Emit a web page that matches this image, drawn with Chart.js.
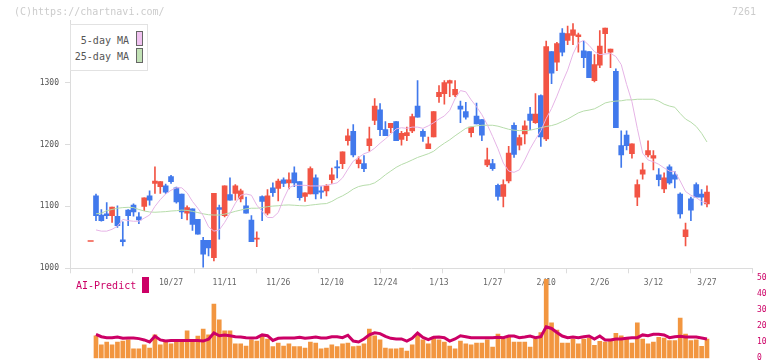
<!DOCTYPE html>
<html>
<head>
<meta charset="utf-8">
<script src="https://cdn.jsdelivr.net/npm/chart.js@4"></script>
<style>
body{margin:0;background:#fff;}
#wrap{position:relative;width:772px;height:361px;overflow:hidden;font-family:"DejaVu Sans Mono",monospace;}
canvas{position:absolute;left:0;top:0;}
.txt{position:absolute;white-space:nowrap;}
#legend{position:absolute;left:70px;top:24px;width:76px;height:45px;border:1px solid #e2e2e2;background:#fff;}
#legend span{position:absolute;right:18px;font-size:10px;line-height:12px;color:#555;}
#legend i{position:absolute;left:65px;width:7px;height:15px;box-sizing:border-box;border:1px solid #666;}
</style>
</head>
<body>
<div id="wrap">
  <canvas id="main" width="772" height="361"></canvas>
  <canvas id="vol" width="772" height="361"></canvas>
  <div class="txt" style="left:14px;top:6px;font-size:10px;color:#ccc">(C)https://chartnavi.com/</div>
  <div class="txt" style="right:16px;top:6px;font-size:10px;color:#ccc">7261</div>
  <div id="legend">
    <span style="top:10px">5-day MA</span><i style="top:6px;background:#f0c2f0"></i>
    <span style="top:26px">25-day MA</span><i style="top:23px;background:#c2e2b6"></i>
  </div>
  <div class="txt" style="left:76px;top:280px;font-size:10px;color:#cc0066">AI-Predict</div>
  <div style="position:absolute;left:142px;top:277px;width:7px;height:16px;background:#cc0066"></div>
</div>
<script>
// trading days (Oct 2025 - Mar 2026)
const dates=["10/6","10/7","10/8","10/9","10/10","10/14","10/15","10/16","10/17","10/20","10/21","10/22","10/23","10/24","10/27","10/28","10/29","10/30","10/31",
"11/4","11/5","11/6","11/7","11/10","11/11","11/12","11/13","11/14","11/17","11/18","11/19","11/20","11/21","11/25","11/26","11/27","11/28",
"12/1","12/2","12/3","12/4","12/5","12/8","12/9","12/10","12/11","12/12","12/15","12/16","12/17","12/18","12/19","12/22","12/23","12/24","12/25","12/26","12/29","12/30",
"1/5","1/6","1/7","1/8","1/9","1/13","1/14","1/15","1/16","1/19","1/20","1/21","1/22","1/23","1/26","1/27","1/28","1/29","1/30",
"2/2","2/3","2/4","2/5","2/6","2/9","2/10","2/12","2/13","2/16","2/17","2/18","2/19","2/20","2/24","2/25","2/26","2/27",
"3/2","3/3","3/4","3/5","3/6","3/9","3/10","3/11","3/12","3/13","3/16","3/17","3/18","3/19","3/23","3/24","3/25","3/26","3/27"];
const tickLabels=["10/27","11/11","11/26","12/10","12/24","1/13","1/27","2/10","2/26","3/12","3/27"];
const priceTicks=[1000,1100,1200,1300];
const volTicks=[0,10,20,30,40,50];

const opens=[1117,1086,1088,1085,1084,1046,1094,1102,1083,1100,1117,1137,1132,1133,1148,1130,1120,1089,1096,1079,
1045,1045,1017,1098,1085,1119,1121,1112,1101,1078,1047,1116,1089,1130,1129,1143,1138,1154,1140,1116,
1120,1146,1125,1125,1143,1164,1169,1206,1221,1169,1169,1198,1239,1256,1224,1227,1237,1208,1214,1222,
1262,1221,1193,1212,1277,1282,1299,1280,1262,1253,1219,1246,1240,1167,1169,1134,1116,1141,1231,1199,
1217,1249,1235,1279,1209,1350,1333,1380,1368,1376,1374,1351,1350,1303,1328,1379,1349,1318,1198,1215,
1185,1115,1152,1183,1178,1151,1128,1164,1151,1120,1051,1112,1135,1120,1104];
const highs=[1120,1095,1106,1099,1101,1075,1095,1104,1090,1114,1125,1164,1140,1136,1150,1131,1120,1101,1096,1079,
1050,1045,1121,1102,1133,1146,1135,1128,1115,1085,1059,1117,1127,1138,1144,1146,1154,1164,1140,1122,
1164,1151,1132,1135,1162,1174,1188,1225,1232,1180,1182,1228,1274,1266,1237,1234,1237,1221,1228,1249,
1303,1224,1212,1253,1295,1303,1304,1303,1270,1268,1228,1267,1240,1194,1176,1136,1143,1197,1235,1215,
1238,1260,1282,1280,1367,1350,1365,1387,1391,1395,1380,1367,1350,1345,1384,1388,1354,1322,1222,1222,
1201,1143,1170,1206,1190,1161,1154,1167,1156,1122,1073,1115,1138,1127,1133];
const lows=[1077,1076,1080,1074,1066,1036,1069,1084,1072,1093,1102,1121,1121,1121,1137,1105,1080,1078,1061,1055,
1002,1020,1012,1047,1083,1110,1110,1107,1089,1043,1035,1077,1086,1116,1109,1132,1128,1132,1110,1108,
1120,1112,1113,1117,1137,1146,1161,1199,1180,1162,1156,1189,1232,1214,1214,1219,1206,1199,1206,1219,
1244,1205,1193,1212,1268,1265,1277,1277,1235,1241,1212,1233,1206,1164,1158,1110,1099,1138,1179,1191,
1201,1224,1234,1197,1206,1298,1319,1343,1361,1361,1349,1324,1308,1301,1324,1348,1324,1227,1163,1191,
1178,1101,1144,1180,1159,1133,1122,1136,1130,1081,1036,1077,1115,1102,1099];
const closes=[1085,1077,1085,1099,1069,1043,1085,1091,1078,1114,1110,1141,1140,1123,1140,1107,1091,1098,1071,1055,
1023,1033,1121,1095,1133,1110,1133,1125,1089,1043,1049,1108,1117,1122,1141,1137,1143,1138,1114,1122,
1161,1120,1123,1133,1151,1162,1188,1214,1183,1175,1161,1209,1262,1224,1214,1234,1206,1218,1219,1245,
1244,1213,1201,1253,1284,1300,1303,1289,1257,1244,1228,1233,1215,1175,1161,1116,1135,1186,1184,1211,
1230,1239,1249,1212,1358,1315,1363,1349,1379,1385,1377,1340,1308,1329,1359,1388,1354,1227,1183,1198,
1201,1135,1159,1190,1182,1143,1146,1138,1144,1088,1062,1094,1115,1115,1123];
const prevMark=1044;

const ma5=[1062,1060,1060,1063,1068,1079,1077,1076,1076,1081,1086,1100,1111,1120,1126,1130,1130,1122,1108,1097,
1085,1067,1060,1062,1074,1089,1105,1118,1120,1118,1102,1092,1082,1082,1090,1112,1130,1134,1134,1134,
1133,1133,1133,1134,1136,1138,1146,1160,1173,1179,1185,1188,1194,1202,1209,1217,1225,1227,1226,1228,
1228,1226,1230,1235,1241,1246,1255,1274,1287,1285,1272,1261,1248,1232,1213,1193,1170,1157,1155,1159,
1175,1193,1208,1222,1242,1258,1278,1300,1320,1346,1364,1368,1360,1350,1345,1346,1347,1342,1329,1297,
1269,1226,1186,1175,1172,1168,1162,1157,1156,1141,1124,1118,1114,1108,1105];
const ma25=[1088,1089,1093,1095,1097,1098,1098.5,1098,1095,1092.5,1091,1090.5,1091,1091.5,1092.5,1093,1094,1093.5,1092,1090,
1088,1086.5,1086,1086,1087.5,1089.5,1092,1094,1096,1097,1097,1098,1099.5,1100.5,1101,1102,1102.3,1101.8,1101.2,1100.8,
1102,1103,1104,1104.5,1108,1113,1117,1122,1128,1132,1134,1135,1138,1144,1151,1157,1163,1167.5,1171,1175,
1179,1182,1185,1189,1196,1202,1207.5,1214,1220,1226,1228.5,1230,1231,1231,1231,1229.5,1227,1224.5,1223,1222.4,
1222.4,1223,1225,1227,1229,1230.5,1233,1237,1241,1246,1251,1254,1255.5,1257.5,1262,1267,1269,1270,1270.5,1272,
1272,1273,1273,1273,1273,1270,1265,1262,1260,1250,1241,1236,1229,1218,1204];

const volumes=[14,8.3,10.1,8.3,10.1,10.7,11.4,5.8,5.8,8.3,6.4,14.5,8.3,10.1,8.9,10.1,10.1,17,10.1,13.8,
18.2,14.5,33.7,23.8,17,17,8.9,8.9,7.6,11.4,10.7,14,12,7.2,9.5,7.6,8.9,7.2,7.2,6.4,
10.1,9.5,5.8,6.4,8.3,7.2,8.9,9.5,7.2,7.6,8.9,18.2,14,11.4,6.4,5.8,5.8,6.4,4.5,8.3,
14.5,11.4,8.9,13.2,11.4,10.1,7.6,5.8,10.7,8.9,8.3,9.5,9.5,11.4,7,15.1,12,13.5,10,10,
10,7,12,16,49,22,17.5,9.5,9.5,12,9,12,12.5,8,10.5,10,10.5,15.5,14,13,
9.5,22,12,9,10,13,12.5,11,11,25,15,11,11.5,7.5,12];
const aiPredict=[14.9,13.4,12.8,12.8,13.2,12.4,12.6,12.6,12.2,11.4,10.1,13.7,11.4,10.7,11.1,11.1,11.1,11.1,11.1,11.1,
10.7,11.8,15.7,14,14.5,14,13.4,13.2,12.8,12.6,12.8,14.5,14,11.1,12.4,12.6,12.6,12.6,13,12.4,
12.8,13.2,12.6,12.6,13.4,13.4,12.8,14.3,10.7,10.1,12,14.5,15.8,15.3,13.6,12.4,12,12,10.7,12.4,
15.7,13,11.6,13,13.2,12.8,10.7,12,14,13.4,12.8,12.8,12.8,12.8,12.8,13,12.8,13.8,13.8,12.8,
13.2,13.8,12.8,13.4,19.5,18.5,16,13.8,12.8,13.2,12.8,13.4,13.8,12,13.8,11.4,11.4,12,12,12.4,
12.8,12.8,14.5,14,14.9,14.9,14.5,12.8,13.4,13.6,13.2,13.2,13.2,12.6,12];

const RED='#f25444', BLUE='#4179ec';
const candleColors=closes.map((c,i)=>c>=opens[i]?RED:BLUE);
const xMin=-4.85, xMax=122.4;
const mono='DejaVu Sans Mono';

Chart.defaults.font.family=mono;
Chart.defaults.animation=false;

new Chart(document.getElementById('main'),{
  type:'bar',
  data:{datasets:[
    {type:'line',label:'5-day MA',data:ma5.map((v,i)=>({x:i,y:v})),borderColor:'#e6b4e6',borderWidth:1,pointRadius:0,order:0},
    {type:'line',label:'25-day MA',data:ma25.map((v,i)=>({x:i,y:v})),borderColor:'#b6dcaa',borderWidth:1,pointRadius:0,order:0},
    {type:'scatter',data:[{x:-1,y:prevMark}],pointStyle:'line',pointRadius:3,borderColor:RED,borderWidth:1.5,order:0},
    {label:'body',data:opens.map((o,i)=>({x:i,y:[o,closes[i]]})),backgroundColor:candleColors,barThickness:5,minBarLength:1,grouped:false,order:1},
    {label:'wick',data:lows.map((l,i)=>({x:i,y:[l,highs[i]]})),backgroundColor:candleColors,barThickness:1,grouped:false,order:2}
  ]},
  options:{
    responsive:false,events:[],
    layout:{padding:{top:20.6,right:20,bottom:70.7,left:0}},
    plugins:{legend:{display:false},tooltip:{enabled:false}},
    scales:{
      x:{type:'linear',min:xMin,max:xMax,offset:false,
        grid:{drawOnChartArea:false,color:'#dcdcdc',tickLength:5,offset:false},
        border:{color:'#dcdcdc'},
        ticks:{display:false},
        afterBuildTicks:s=>{s.ticks=Array.from({length:12},(_,k)=>({value:xMin+k*(xMax-xMin)/11}));},
        afterFit:s=>{s.height=8;}},
      xd:{type:'linear',position:'bottom',min:xMin,max:xMax,offset:false,
        grid:{display:false,drawTicks:false},border:{display:false},
        ticks:{autoSkip:false,maxRotation:0,padding:2,color:'#666',font:{size:8},callback:v=>dates[v]},
        afterBuildTicks:s=>{s.ticks=tickLabels.map(t=>({value:dates.indexOf(t)}));},
        afterFit:s=>{s.height=14;}},
      y:{position:'left',min:1000,max:1400,
        grid:{drawOnChartArea:false,color:'#dcdcdc',tickLength:5},
        border:{color:'#dcdcdc'},
        ticks:{color:'#555',font:{size:8},padding:6,callback:v=>String(v)},
        afterBuildTicks:s=>{s.ticks=priceTicks.map(v=>({value:v}));},
        afterFit:s=>{s.width=70;s.paddingTop=0;s.paddingBottom=0;}}
    }
  }
});

new Chart(document.getElementById('vol'),{
  type:'bar',
  data:{datasets:[
    {type:'line',label:'AI-Predict',data:aiPredict.map((v,i)=>({x:i,y:v})),borderColor:'#cc0066',borderWidth:3,pointRadius:0,order:0},
    {label:'volume',data:volumes.map((v,i)=>({x:i,y:v})),backgroundColor:'#f29640',barThickness:4,order:1}
  ]},
  options:{
    responsive:false,events:[],
    layout:{padding:{top:277.7,right:0,bottom:2.7,left:70}},
    plugins:{legend:{display:false},tooltip:{enabled:false}},
    scales:{
      x:{type:'linear',min:xMin,max:xMax,offset:false,display:false},
      y:{position:'right',min:0,max:50,
        grid:{display:false,drawTicks:false},border:{display:false},
        ticks:{color:'#cc0066',font:{size:8},padding:5,callback:v=>String(v)},
        afterBuildTicks:s=>{s.ticks=volTicks.map(v=>({value:v}));},
        afterFit:s=>{s.width=20;s.paddingTop=0;s.paddingBottom=0;}}
    }
  }
});
</script>
</body>
</html>
